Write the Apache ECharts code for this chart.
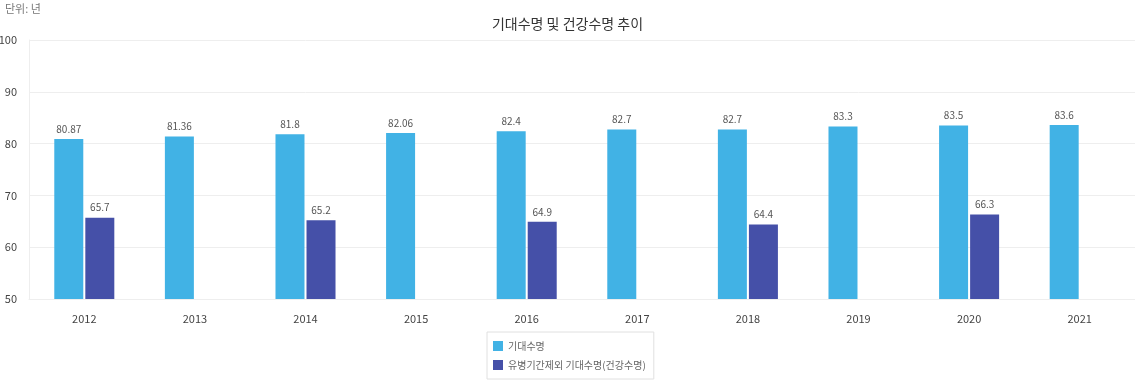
<!DOCTYPE html>
<html><head><meta charset="utf-8">
<script src="https://cdn.jsdelivr.net/npm/echarts@6/dist/echarts.min.js"></script>
<style>html,body{margin:0;padding:0;background:#fff}#c{width:1135px;height:380px}</style>
</head><body><div id="c"></div>
<script>
const categories = ['2012','2013','2014','2015','2016','2017','2018','2019','2020','2021'];
const seriesNames = ['기대수명','유병기간제외 기대수명(건강수명)'];
const lifeExpectancy = [80.87, 81.36, 81.8, 82.06, 82.4, 82.7, 82.7, 83.3, 83.5, 83.6];
const healthyLife = [65.7, null, 65.2, null, 64.9, null, 64.4, null, 66.3, null];
const yTicks = [50, 60, 70, 80, 90, 100];

const font = '"Noto Sans CJK KR", "Noto Sans", sans-serif';
const chart = echarts.init(document.getElementById('c'));
const labelOpt = {show: true, position: 'top', distance: 5, color: '#555', fontSize: 10, fontFamily: font};
chart.setOption({
  animation: false,
  textStyle: {fontFamily: font},
  title: [
    {text: '기대수명 및 건강수명 추이', left: 'center', top: 12, textStyle: {fontSize: 14, fontWeight: 'normal', color: '#333', fontFamily: font}},
    {text: '단위: 년', left: 0, top: -2, textStyle: {fontSize: 11, fontWeight: 'normal', color: '#777', fontFamily: font}}
  ],
  legend: {
    orient: 'vertical', left: 487, top: 332,
    padding: [9, 8, 9, 6], itemGap: 9,
    borderColor: '#e0e0e0', borderWidth: 1,
    itemWidth: 10, itemHeight: 10, icon: 'rect',
    textStyle: {fontSize: 10, color: '#666', fontFamily: font},
    data: seriesNames
  },
  grid: {left: 29, right: 0, top: 40, bottom: 81, containLabel: false, outerBoundsMode: 'none'},
  xAxis: {
    type: 'category', data: categories,
    axisLine: {show: true, lineStyle: {color: '#eee'}},
    axisTick: {show: false},
    axisLabel: {color: '#444', fontSize: 11, margin: 14, fontFamily: font},
    splitLine: {show: false}
  },
  yAxis: {
    type: 'value', min: yTicks[0], max: yTicks[yTicks.length-1], interval: 10,
    axisLine: {show: true, lineStyle: {color: '#eee'}},
    axisTick: {show: false},
    axisLabel: {color: '#444', fontSize: 11, margin: 12, fontFamily: font},
    splitLine: {show: true, lineStyle: {color: '#eee'}}
  },
  series: [
    {name: seriesNames[0], type: 'bar', data: lifeExpectancy, barWidth: 29, barGap: '7%',
     itemStyle: {color: '#41b2e5'}, label: labelOpt},
    {name: seriesNames[1], type: 'bar', data: healthyLife, barWidth: 29,
     itemStyle: {color: '#4550a8'}, label: labelOpt}
  ]
});
</script></body></html>
